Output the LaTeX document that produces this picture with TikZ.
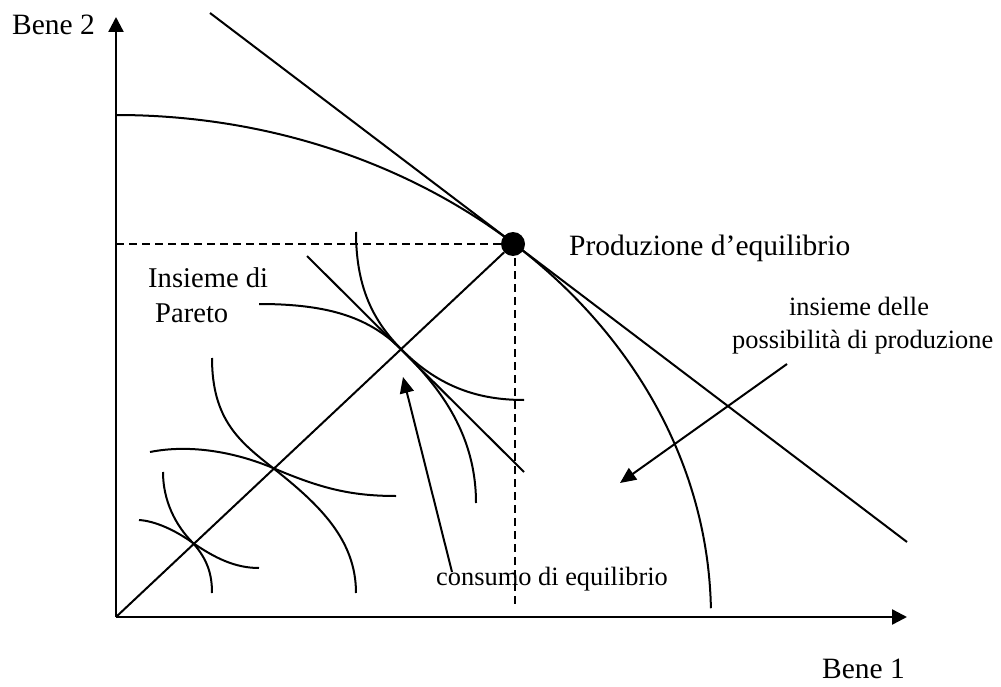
\documentclass[tikz,border=0pt]{standalone}
\usepackage{fontspec}
\setmainfont{Liberation Serif}
\usetikzlibrary{arrows.meta}
\tikzset{
  axis/.style={line width=2.4pt, -{Triangle[length=15pt,width=15pt]}},
  curve/.style={line width=2pt},
  guide/.style={line width=1.8pt, dash pattern=on 8pt off 5pt},
  pointer/.style={line width=2pt, -{Triangle[length=16pt,width=14pt]}},
  lbl/.style={inner sep=0pt, anchor=base west},
  big/.style={font=\fontsize{29.5}{34}\selectfont},
  small/.style={font=\fontsize{26.4}{30}\selectfont},
}
\begin{document}
\begin{tikzpicture}[x=1pt,y=-1pt]
\useasboundingbox (0,0) rectangle (1001,687);
% axes
\coordinate (O) at (116,617);
\coordinate (ytop) at (116,17);
\coordinate (xend) at (907,617);
\draw[axis] (O) -- (ytop);
\draw[axis] (O) -- (xend);
% equilibrium point
\node[circle, fill=black, inner sep=0pt, minimum size=24pt] (eq) at (513,244) {};
% production possibility frontier (quarter ellipse)
\draw[curve] (116,115) arc[start angle=-90, end angle=-1, x radius=595, y radius=502];
% price line
\coordinate (p1) at (210,13);
\coordinate (p2) at (907,542);
\draw[curve] (p1) -- (p2);
% guides
\coordinate (gy) at (116,244);
\coordinate (gx1) at (515,258);
\coordinate (gx2) at (515,607);
\draw[guide] (gy) -- (eq.west);
\draw[guide] (gx1) -- (gx2);
% diagonal
\draw[curve] (O) -- (eq);
% pair 1
\coordinate (t1a) at (307,256);
\coordinate (t1b) at (524,472);
\draw[curve] (t1a) -- (t1b);
\draw[curve] (259,304) .. controls (330,304) and (370,318) .. (402,350)
  .. controls (440,388) and (480,400) .. (524,400);
\draw[curve] (356,232) .. controls (356,290) and (375,323) .. (402,350)
  .. controls (435,383) and (476,430) .. (476,503);
% pair 2
\draw[curve] (150,452) .. controls (190,444) and (235,452) .. (273,468)
  .. controls (320,488) and (350,496) .. (396,496);
\draw[curve] (212,358) .. controls (212,420) and (240,442) .. (273,468)
  .. controls (320,505) and (356,540) .. (356,593);
% pair 3
\draw[curve] (139,520) .. controls (155,521) and (175,530) .. (193,543)
  .. controls (215,558) and (235,568) .. (259,568);
\draw[curve] (163,472) .. controls (163,500) and (175,525) .. (193,543)
  .. controls (208,560) and (212,575) .. (212,593);
% labels
\node[lbl, big] (b2) at (12,35) {Bene 2};
\node[lbl, big] (b1) at (822,678) {Bene 1};
\node[lbl, big] (prod) at (569,255) {Produzione d’equilibrio};
\node[lbl, font=\fontsize{28.6}{32}\selectfont] (par1) at (148,287) {Insieme di};
\node[lbl, font=\fontsize{28.6}{32}\selectfont] (par2) at (155,322) {Pareto};
\node[inner sep=0pt, anchor=base, small] (ips1) at (859,315) {insieme delle};
\node[lbl, small] (ips2) at (732,348) {possibilità di produzione};
\node[lbl, small] (cons) at (436,585) {consumo di equilibrio};
% pointers
\coordinate (c0) at (452,572);
\coordinate (c1) at (403,377);
\draw[pointer] (c0) -- (c1);
\coordinate (i0) at (787,364);
\coordinate (i1) at (620,483);
\draw[pointer] (i0) -- (i1);
\end{tikzpicture}
\end{document}
